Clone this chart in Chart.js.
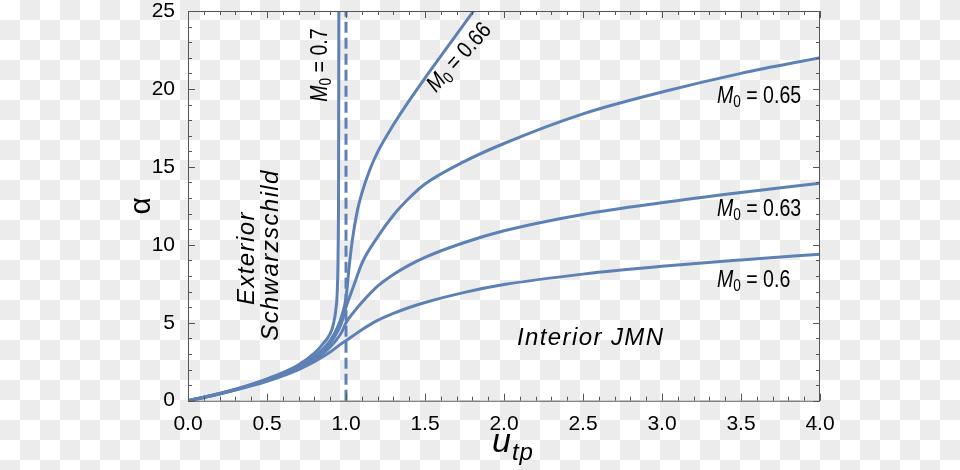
<!DOCTYPE html>
<html>
<head>
<meta charset="utf-8">
<script src="https://cdn.jsdelivr.net/npm/chart.js@4.4.1/dist/chart.umd.min.js"></script>
<style>
  html, body { margin: 0; padding: 0; }
  body {
    width: 960px; height: 470px; overflow: hidden;
    background: repeating-conic-gradient(#ececec 0 25%, #ffffff 0 50%) 0 0 / 40px 40px;
  }
</style>
</head>
<body>
<canvas id="chart" width="960" height="470"></canvas>
<script>
// exterior Schwarzschild branch (u_tp < 1)
const uExt = [0, 0.1, 0.2, 0.3, 0.4, 0.5, 0.6, 0.7, 0.8, 0.85, 0.9, 0.95, 0.975, 1.0];
const ext060 = [0, 0.21, 0.43, 0.68, 0.95, 1.25, 1.6, 2.0, 2.5, 2.8, 3.12, 3.5, 3.68, 3.85];
const ext063 = [0, 0.21, 0.44, 0.7, 0.98, 1.3, 1.66, 2.1, 2.65, 3.0, 3.45, 4.05, 4.45, 5.0];
const ext065 = [0, 0.22, 0.45, 0.71, 1.0, 1.33, 1.7, 2.17, 2.77, 3.17, 3.7, 4.5, 5.1, 6.0];
const ext066 = [0, 0.22, 0.46, 0.72, 1.02, 1.35, 1.73, 2.22, 2.85, 3.28, 3.85, 4.8, 5.5, 6.6];

// interior JMN branch (u_tp > 1)
const uInt = [1.05, 1.1, 1.2, 1.3, 1.4, 1.5, 1.75, 2.0, 2.5, 3.0, 3.5, 4.0];
const int060 = [4.2, 4.55, 5.15, 5.6, 5.98, 6.3, 6.95, 7.45, 8.12, 8.62, 9.03, 9.4];
const int063 = [5.7, 6.3, 7.35, 8.1, 8.7, 9.2, 10.15, 10.9, 11.95, 12.7, 13.35, 13.95];
const int065 = [7.4, 8.8, 10.5, 11.9, 13.0, 13.9, 15.35, 16.5, 18.4, 19.8, 21.0, 22.0];
const uInt066 = [1.02, 1.04, 1.07, 1.1, 1.15, 1.2, 1.3, 1.4, 1.5, 1.6, 1.7, 1.8, 1.85];
const int066 = [8.6, 10.3, 12.1, 13.3, 14.8, 15.95, 17.7, 19.25, 20.7, 22.1, 23.5, 24.9, 25.6];

// M0 = 0.7 never gets past the photon sphere
const u070 = [0, 0.1, 0.2, 0.3, 0.4, 0.5, 0.6, 0.7, 0.8, 0.85, 0.9, 0.92, 0.935, 0.945, 0.95, 0.953, 0.955];
const a070 = [0, 0.23, 0.47, 0.74, 1.05, 1.4, 1.8, 2.3, 3.05, 3.6, 4.3, 4.9, 5.8, 7.1, 9.5, 14, 26];

const boundaryU = [1.0, 1.0];
const boundaryA = [0, 25];

const xTickVals = [0, 0.5, 1, 1.5, 2, 2.5, 3, 3.5, 4];
const xTickLabels = ['0.0', '0.5', '1.0', '1.5', '2.0', '2.5', '3.0', '3.5', '4.0'];
const yTickVals = [0, 5, 10, 15, 20, 25];
const yTickLabels = ['0', '5', '10', '15', '20', '25'];

const blue = '#5e81b5';
const FONT = 'Liberation Sans';

function pts(us, as) {
  return us.map((u, i) => ({ x: u, y: as[i] }));
}
function curve(us, as) {
  return {
    data: pts(us, as),
    borderColor: blue,
    borderWidth: 3,
    pointRadius: 0,
    cubicInterpolationMode: 'monotone',
    fill: false
  };
}

// text helpers
function drawRuns(ctx, parts, x, y, opt) {
  opt = opt || {};
  ctx.save();
  ctx.translate(x, y);
  if (opt.rot) ctx.rotate(opt.rot);
  ctx.scale(opt.sx || 1, 1);
  ctx.letterSpacing = (opt.spacing || 0) + 'px';
  ctx.textBaseline = 'alphabetic';
  ctx.textAlign = 'left';
  ctx.fillStyle = '#000';
  let w = 0;
  parts.forEach(p => { ctx.font = p.f; w += ctx.measureText(p.t).width; });
  let cx = 0;
  if (opt.align === 'center') cx = -w / 2;
  if (opt.align === 'right') cx = -w;
  const dy = opt.dy || 0;
  parts.forEach(p => {
    ctx.font = p.f;
    ctx.fillText(p.t, cx, dy + (p.dy || 0));
    cx += ctx.measureText(p.t).width;
  });
  ctx.restore();
}
function mLabel(v) {
  return [
    { t: 'M', f: 'italic 23px ' + FONT },
    { t: '0', f: '16px ' + FONT, dy: 4 },
    { t: ' = ' + v, f: '23px ' + FONT }
  ];
}

const frame = {
  id: 'frame',
  afterDatasetsDraw(chart) {
    const { ctx, chartArea: a, scales: { x, y } } = chart;
    ctx.save();
    ctx.strokeStyle = '#555';
    ctx.lineWidth = 1;
    ctx.strokeRect(a.left + 0.5, a.top + 0.5, a.right - a.left - 1, a.bottom - a.top);
    ctx.beginPath();
    for (let i = 0; i <= 40; i++) {
      const px = Math.round(x.getPixelForValue(i / 10)) + 0.5;
      const len = i % 5 === 0 ? 7 : 4;
      ctx.moveTo(px, a.bottom); ctx.lineTo(px, a.bottom - len);
      ctx.moveTo(px, a.top); ctx.lineTo(px, a.top + len);
    }
    for (let i = 0; i <= 25; i++) {
      const py = Math.round(y.getPixelForValue(i)) + 0.5;
      const len = i % 5 === 0 ? 7 : 4;
      ctx.moveTo(a.left, py); ctx.lineTo(a.left + len, py);
      ctx.moveTo(a.right, py); ctx.lineTo(a.right - len, py);
    }
    ctx.stroke();
    ctx.restore();
  },
  afterDraw(chart) {
    const { ctx, chartArea: a, scales: { x, y } } = chart;
    const X = v => x.getPixelForValue(v), Y = v => y.getPixelForValue(v);
    const cap = 8;
    drawRuns(ctx, mLabel('0.7'), X(0.826), Y(21.53), { rot: -Math.PI / 2, align: 'center', sx: 0.85, dy: cap });
    drawRuns(ctx, mLabel('0.66'), X(1.71), Y(22.07), { rot: -48 * Math.PI / 180, align: 'center', sx: 0.85, dy: cap });
    drawRuns(ctx, mLabel('0.65'), X(3.348), Y(19.08), { sx: 0.85 });
    drawRuns(ctx, mLabel('0.63'), X(3.348), Y(11.87), { sx: 0.85 });
    drawRuns(ctx, mLabel('0.6'), X(3.348), Y(7.27), { sx: 0.85 });

    const it = 'italic 24px ' + FONT;
    drawRuns(ctx, [{ t: 'Exterior', f: it }], X(0.418), Y(9.15), { rot: -Math.PI / 2, align: 'center', spacing: 1.4 });
    drawRuns(ctx, [{ t: 'Schwarzschild', f: it }], X(0.570), Y(9.35), { rot: -Math.PI / 2, align: 'center', spacing: 1.4 });
    drawRuns(ctx, [{ t: 'Interior JMN', f: it }], X(2.082), Y(3.57), { spacing: 1.4 });

    // axis titles
    drawRuns(ctx, [{ t: 'u', f: 'italic 34px ' + FONT }, { t: 'tp', f: 'italic 24px ' + FONT, dy: 8 }],
      (a.left + a.right) / 2 + 9, 452, { align: 'center', spacing: 1 });
    drawRuns(ctx, [{ t: 'α', f: '30px ' + FONT }], 150, (a.top + a.bottom) / 2, { rot: -Math.PI / 2, align: 'center' });
  }
};

const datasets = [
  curve(uExt.concat(uInt), ext060.concat(int060)),
  curve(uExt.concat(uInt), ext063.concat(int063)),
  curve(uExt.concat(uInt), ext065.concat(int065)),
  curve(uExt.concat(uInt066), ext066.concat(int066)),
  curve(u070, a070),
  Object.assign(curve(boundaryU, boundaryA), { borderDash: [11, 5], cubicInterpolationMode: 'default', tension: 0 })
];

new Chart(document.getElementById('chart'), {
  type: 'scatter',
  data: { datasets: datasets.map(d => Object.assign(d, { showLine: true })) },
  options: {
    responsive: false,
    animation: false,
    layout: { padding: { top: 11, right: 140, left: 0, bottom: 0 } },
    plugins: { legend: { display: false }, tooltip: { enabled: false } },
    scales: {
      x: {
        type: 'linear', min: 0, max: 4,
        grid: { display: false }, border: { display: false },
        afterBuildTicks: s => { s.ticks = xTickVals.map(v => ({ value: v })); },
        afterFit: s => { s.height = 69.3; s.paddingLeft = 0; s.paddingRight = 0; },
        ticks: {
          color: '#000', font: { family: FONT, size: 21 }, padding: 3,
          autoSkip: false, maxRotation: 0,
          callback: (v, i) => xTickLabels[i]
        }
      },
      y: {
        type: 'linear', min: 0, max: 25,
        grid: { display: false }, border: { display: false },
        afterBuildTicks: s => { s.ticks = yTickVals.map(v => ({ value: v })); },
        afterFit: s => { s.width = 188; s.paddingTop = 0; s.paddingBottom = 0; },
        ticks: {
          color: '#000', font: { family: FONT, size: 21 }, padding: 5,
          autoSkip: false,
          callback: (v, i) => yTickLabels[i]
        }
      }
    }
  },
  plugins: [frame]
});
</script>
</body>
</html>
